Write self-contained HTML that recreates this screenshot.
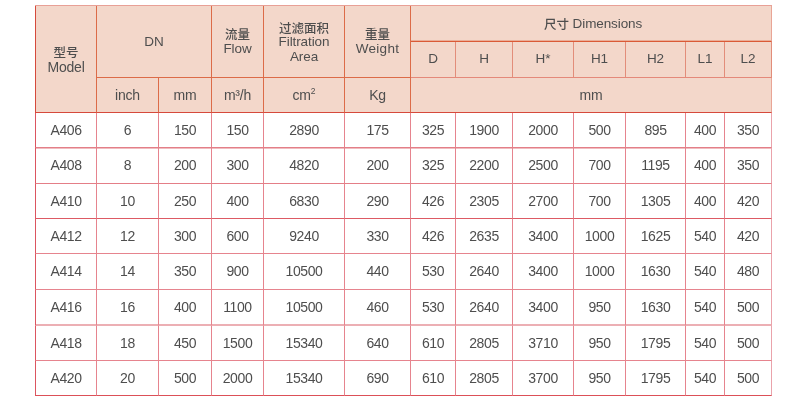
<!DOCTYPE html>
<html lang="zh-CN">
<head>
<meta charset="utf-8">
<title>Dimensions</title>
<style>
html,body{margin:0;padding:0;background:#fff;}
body{width:798px;height:403px;overflow:hidden;position:relative;}
table.spec{
  position:absolute;left:35px;top:5px;
  border-collapse:separate;border-spacing:0;table-layout:fixed;
  width:737px;
  font-family:"Liberation Sans","Noto Sans CJK SC",sans-serif;
  font-size:14px;letter-spacing:-0.4px;color:#4e4e4e;
  border-top:1px solid #e8a096;
}
table.spec td,table.spec th{
  box-sizing:border-box;padding:0;text-align:center;vertical-align:middle;
  font-weight:normal;white-space:nowrap;line-height:15px;
  border-right:1px solid #e6848e;border-bottom:1px solid #e6848e;
}
thead th{font-size:13.5px;letter-spacing:-0.1px;background:#f3d7ca;border-right-color:#dc6b48 !important;border-bottom-color:#dc6b48 !important;}
thead tr.r3 th{border-bottom-color:#d6493b !important;font-size:14px;letter-spacing:-0.2px;}
thead th.first{border-left:1px solid #d54a3c;border-bottom-color:#d6493b !important;}
tbody td{border-bottom-color:#e8959d;border-right-color:#e8929b;}
tbody tr.b1 td{border-bottom-color:#e37f88;}
tbody tr.b2 td{box-shadow:inset 0 1px 0 #f1bcc0;border-bottom-color:#e47e87;}
tbody tr.b3 td{border-bottom-color:#dd5a64;}
tbody tr.b6 td{border-bottom-color:#ecafb4;box-shadow:inset 0 -1px 0 #ecafb4;}
tbody tr.b8 td{border-bottom-color:#dc5058;}
tbody td:first-child{border-left:1px solid #dc5560;}
thead tr.r1 th.dim{border-bottom-color:#da5a36 !important;box-shadow:inset 0 -1px 0 #eaae98;}
thead tr.r2 th{border-bottom-color:#e4897a !important;border-right-color:#e28d7a !important;padding-bottom:2px;}
thead th.last{border-right-color:#e9a596 !important;}
tbody td.last{border-right-color:#eaa3ab;}
.cn{font-family:"Liberation Sans","Noto Sans CJK SC",sans-serif;font-size:12.5px;letter-spacing:0;position:relative;top:1px;font-weight:500;}
.cn2{top:2px;}
.en{position:relative;top:-1px;}
.en-m{font-size:14px;letter-spacing:-0.2px;top:0;}
.en-w{letter-spacing:0.3px;}
.dim{padding-left:4px !important;}
sup{font-size:8.5px;vertical-align:6.5px;line-height:0;letter-spacing:0;}
</style>
</head>
<body>
<table class="spec">
<colgroup>
<col style="width:62px"><col style="width:62px"><col style="width:53px"><col style="width:52px"><col style="width:81px"><col style="width:66px"><col style="width:45px"><col style="width:57px"><col style="width:61px"><col style="width:52px"><col style="width:60px"><col style="width:39px"><col style="width:47px">
</colgroup>
<thead>
<tr class="r1" style="height:36px">
<th rowspan="3" class="first"><span class="cn">型号</span><br><span class="en en-m">Model</span></th>
<th rowspan="2" colspan="2">DN</th>
<th rowspan="2"><span class="cn">流量</span><br><span class="en">Flow</span></th>
<th rowspan="2"><span class="cn cn2">过滤面积</span><br><span class="en">Filtration</span><br><span class="en">Area</span></th>
<th rowspan="2"><span class="cn">重量</span><br><span class="en en-w">Weight</span></th>
<th colspan="7" class="last dim"><span class="cn">尺寸</span> Dimensions</th>
</tr>
<tr class="r2" style="height:36px">
<th>D</th><th>H</th><th>H*</th><th>H1</th><th>H2</th><th>L1</th><th class="last">L2</th>
</tr>
<tr class="r3" style="height:35px">
<th>inch</th><th>mm</th><th>m³/h</th><th>cm<sup>2</sup></th><th>Kg</th><th colspan="7" class="last">mm</th>
</tr>
</thead>
<tbody>
<tr class="b1" style="height:35px"><td>A406</td><td>6</td><td>150</td><td>150</td><td>2890</td><td>175</td><td>325</td><td>1900</td><td>2000</td><td>500</td><td>895</td><td>400</td><td class="last">350</td></tr>
<tr class="b2" style="height:36px"><td>A408</td><td>8</td><td>200</td><td>300</td><td>4820</td><td>200</td><td>325</td><td>2200</td><td>2500</td><td>700</td><td>1195</td><td>400</td><td class="last">350</td></tr>
<tr class="b3" style="height:35px"><td>A410</td><td>10</td><td>250</td><td>400</td><td>6830</td><td>290</td><td>426</td><td>2305</td><td>2700</td><td>700</td><td>1305</td><td>400</td><td class="last">420</td></tr>
<tr class="b4" style="height:35px"><td>A412</td><td>12</td><td>300</td><td>600</td><td>9240</td><td>330</td><td>426</td><td>2635</td><td>3400</td><td>1000</td><td>1625</td><td>540</td><td class="last">420</td></tr>
<tr class="b5" style="height:36px"><td>A414</td><td>14</td><td>350</td><td>900</td><td>10500</td><td>440</td><td>530</td><td>2640</td><td>3400</td><td>1000</td><td>1630</td><td>540</td><td class="last">480</td></tr>
<tr class="b6" style="height:36px"><td>A416</td><td>16</td><td>400</td><td>1100</td><td>10500</td><td>460</td><td>530</td><td>2640</td><td>3400</td><td>950</td><td>1630</td><td>540</td><td class="last">500</td></tr>
<tr class="b7" style="height:35px"><td>A418</td><td>18</td><td>450</td><td>1500</td><td>15340</td><td>640</td><td>610</td><td>2805</td><td>3710</td><td>950</td><td>1795</td><td>540</td><td class="last">500</td></tr>
<tr class="b8" style="height:35px"><td>A420</td><td>20</td><td>500</td><td>2000</td><td>15340</td><td>690</td><td>610</td><td>2805</td><td>3700</td><td>950</td><td>1795</td><td>540</td><td class="last">500</td></tr>
</tbody>
</table>
</body>
</html>
